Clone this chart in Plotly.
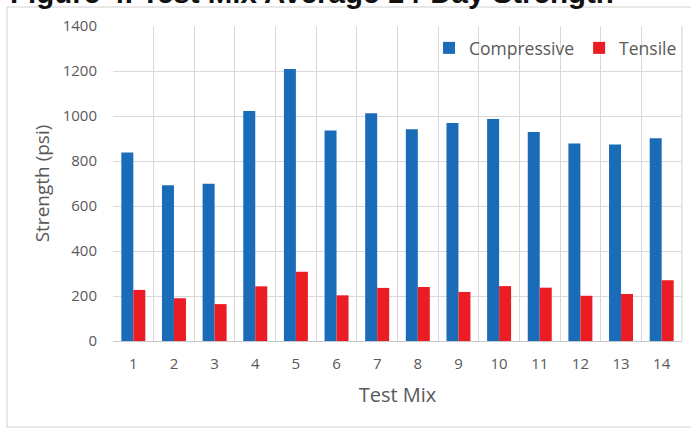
import plotly.graph_objects as go

# Average 14-day strength per test mix (psi)
mixes = list(range(1, 15))
compressive = [838, 692, 699, 1022, 1209, 936, 1012, 941, 969, 987, 929, 878, 873, 901]
tensile = [227, 190, 164, 243, 308, 203, 236, 240, 218, 244, 237, 201, 209, 270]

title_text = "Figure 4. Test Mix Average 14-Day Strength"
y_ticks = list(range(0, 1401, 200))

BLUE = "#1B6CB8"
RED = "#EC1C24"
GRID = "#D9D9D9"
TEXT = "#595959"
FONT = "Open Sans"

fig = go.Figure()
fig.add_trace(go.Bar(x=mixes, y=compressive, name="Compressive",
                     marker=dict(color=BLUE, line=dict(width=0))))
fig.add_trace(go.Bar(x=mixes, y=tensile, name="Tensile",
                     marker=dict(color=RED, line=dict(width=0))))

W, H = 691, 428
ml, mr, mt, mb = 113, 9, 26, 87
pw, ph = W - ml - mr, H - mt - mb

fig.update_layout(
    width=W, height=H,
    margin=dict(l=ml, r=mr, t=mt, b=mb, pad=0),
    paper_bgcolor="white", plot_bgcolor="white",
    barmode="group", bargap=0.41, bargroupgap=0,
    font=dict(family=FONT, color=TEXT, size=15),
    showlegend=True,
    legend=dict(orientation="h", x=1.0, xanchor="right",
                y=1 - (48 - mt) / ph, yanchor="middle",
                font=dict(family=FONT, size=17.5, color=TEXT),
                bgcolor="rgba(0,0,0,0)", itemclick=False),
    xaxis=dict(
        range=[0.5, 14.5], tickmode="array", tickvals=mixes,
        ticktext=[str(m) for m in mixes], showgrid=False,
        minor=dict(tickmode="linear", tick0=0.5, dtick=1, showgrid=True,
                   gridcolor=GRID, gridwidth=1.2, ticks=""),
        showline=True, linecolor="#C8C8C8", linewidth=1.2,
        ticks="", ticklabelstandoff=9,
        tickfont=dict(family=FONT, size=15, color=TEXT),
        title=dict(text="Test Mix", standoff=15,
                   font=dict(family=FONT, size=20, color=TEXT)),
        zeroline=False,
    ),
    yaxis=dict(
        range=[0, 1400], tickmode="array", tickvals=y_ticks,
        showgrid=True, gridcolor=GRID, gridwidth=1.2,
        zeroline=False, showline=False, ticks="",
        ticklabelstandoff=15,
        tickfont=dict(family=FONT, size=15, color=TEXT),
        title=dict(text="Strength (psi)", standoff=8,
                   font=dict(family=FONT, size=19, color=TEXT)),
    ),
)

# Outer chart frame
fig.add_shape(type="rect", xref="paper", yref="paper",
              x0=(7 - ml) / pw, x1=(W + 6 - ml) / pw,
              y0=-(H - 1 - (mt + ph)) / ph, y1=1 + (mt - 7) / ph,
              line=dict(color="#D0D0D0", width=1), fillcolor="rgba(0,0,0,0)",
              layer="below")
# Right-hand plot edge line
fig.add_shape(type="line", xref="paper", yref="paper", x0=1, x1=1, y0=0, y1=1,
              line=dict(color=GRID, width=1.2), layer="below")

# Figure caption above the chart frame
fig.add_annotation(text="<b>" + title_text + "</b>", xref="paper", yref="paper",
                   x=(8 - ml) / pw, xanchor="left",
                   y=1 + (mt + 7.5) / ph, yanchor="middle", showarrow=False,
                   font=dict(family="Liberation Sans", size=29.5, color="#111111"))

fig.write_html("out.html")
